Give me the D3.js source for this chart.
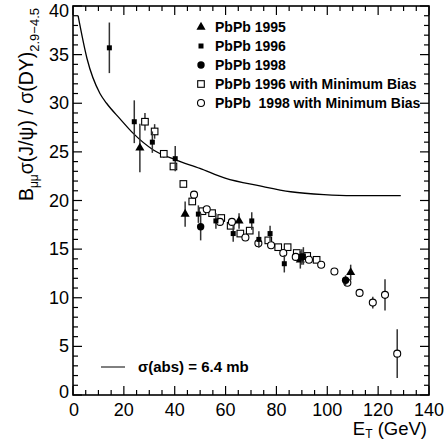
<!DOCTYPE html>
<html>
<head>
<meta charset="utf-8">
<script src="https://cdn.jsdelivr.net/npm/d3@7"></script>
<style>
  body { margin: 0; background: #fff; }
  text { font-family: "Liberation Sans", Arial, Helvetica, sans-serif; fill: #000; }
</style>
</head>
<body>
<div id="chart"></div>
<script>
// values: [E_T, ratio, error]
const pbpb1995 = [
  [26.3, 25.4, 2.5], [44.1, 18.6, 1.3], [65.3, 17.9, 0.8], [89.4, 13.9, 0.9], [109.2, 12.6, 0.8]
]
const pbpb1996 = [
  [14.3, 35.7, 2.6], [24.1, 28.1, 2.2], [31.2, 26.0, 1.1], [40.2, 24.3, 1.3],
  [49.3, 18.6, 0.9], [56.2, 17.9, 0.8], [63.0, 16.6, 0.85], [70.3, 17.9, 0.9],
  [73.1, 16.0, 0.85], [77.5, 16.6, 0.8], [83.1, 13.5, 0.9], [90.6, 14.3, 0.9]
]
const pbpb1998 = [
  [50.2, 17.3, 1.4], [90.0, 14.2, 0.8], [107.2, 11.8, 0.5]
]
const pbpb1996mb = [
  [28.3, 28.1, 0.9], [32.1, 27.1, 0.75], [35.7, 24.8, 0.4], [39.5, 23.5, 0.3],
  [43.4, 21.7, 0], [46.9, 19.9, 0], [50.9, 18.9, 0], [54.7, 18.7, 0],
  [58.3, 18.2, 0], [62.0, 17.4, 0], [65.8, 16.6, 0], [69.5, 16.9, 0],
  [76.8, 15.9, 0], [80.7, 15.2, 0], [84.4, 15.2, 0], [88.0, 14.6, 0],
  [92.1, 14.3, 0], [95.8, 13.9, 0]
]
const pbpb1998mb = [
  [47.6, 20.6, 0.3], [52.6, 19.1, 0], [57.8, 17.8, 0], [62.5, 17.8, 0],
  [67.8, 16.2, 0], [72.9, 15.6, 0], [77.9, 15.4, 0], [82.7, 14.6, 0],
  [87.6, 14.2, 0], [92.8, 13.9, 0], [97.6, 13.4, 0], [102.8, 12.7, 0],
  [107.9, 11.55, 0], [112.7, 10.5, 0], [117.9, 9.5, 0.6], [122.7, 10.3, 1.6],
  [127.5, 4.25, 2.5]
]
// sigma(abs) = 6.4 mb absorption curve
const absCurve = [
  [2.0, 39.0], [5.5, 34.6], [10.6, 31.0], [13.2, 30.0], [18.5, 28.4],
  [23.7, 26.9], [31.6, 25.2], [40.1, 24.2], [49.9, 23.3], [59.8, 22.3],
  [73.5, 21.5], [85.6, 20.9], [98.7, 20.6], [110, 20.5], [128.9, 20.5]
]
const xTicks = [0, 20, 40, 60, 80, 100, 120, 140]
const yTicks = [0, 5, 10, 15, 20, 25, 30, 35, 40]
const legendNames = [
  "PbPb 1995", "PbPb 1996", "PbPb 1998",
  "PbPb 1996 with Minimum Bias", "PbPb  1998 with Minimum Bias"
]

const W = 448, H = 442
const margin = {top: 6, right: 19, bottom: 47, left: 73},
    width = W - margin.left - margin.right,
    height = H - margin.top - margin.bottom

const svg = d3.select("#chart")
  .append("svg")
    .attr("width", W)
    .attr("height", H)
  .append("g")
    .attr("transform", `translate(${margin.left},${margin.top})`)

const x = d3.scaleLinear().domain([0, 140]).range([0, width])
const y = d3.scaleLinear().domain([0, 40]).range([height, 0])

// ticks on all four sides, pointing inside
const tickG = svg.append("g").attr("stroke", "#000").attr("stroke-width", 1.2)
d3.range(0, 141, 5).forEach(v => {
  const len = v % 20 === 0 ? 9 : 5
  tickG.append("line").attr("x1", x(v)).attr("x2", x(v)).attr("y1", height).attr("y2", height - len)
  tickG.append("line").attr("x1", x(v)).attr("x2", x(v)).attr("y1", 0).attr("y2", len)
})
d3.range(0, 41, 1).forEach(v => {
  const len = v % 5 === 0 ? 9 : 5
  tickG.append("line").attr("x1", 0).attr("x2", len).attr("y1", y(v)).attr("y2", y(v))
  tickG.append("line").attr("x1", width).attr("x2", width - len).attr("y1", y(v)).attr("y2", y(v))
})

svg.append("rect")
  .attr("width", width).attr("height", height)
  .attr("fill", "none").attr("stroke", "#000").attr("stroke-width", 1.6)

// tick labels
svg.append("g").selectAll("text")
  .data(xTicks)
  .join("text")
    .attr("x", d => x(d) + (d === 0 ? 1 : 0))
    .attr("y", height + 21)
    .attr("text-anchor", "middle")
    .style("font-size", "18px")
    .text(d => d)

svg.append("g").selectAll("text")
  .data(yTicks)
  .join("text")
    .attr("x", -4)
    .attr("y", d => y(d) + 6 - (d === 0 ? 3 : 0) + (d === 40 ? 5 : 0))
    .attr("text-anchor", "end")
    .style("font-size", "18px")
    .text(d => d)

// axis titles
const xt = svg.append("text")
  .attr("x", width - 2)
  .attr("y", height + 40)
  .attr("text-anchor", "end")
  .style("font-size", "18.5px")
xt.append("tspan").text("E")
xt.append("tspan").attr("dy", 3).style("font-size", "12px").text("T")
xt.append("tspan").attr("dy", -3).text(" (GeV)")

const yt = svg.append("text")
  .attr("transform", `translate(${-40},${2}) rotate(-90)`)
  .attr("text-anchor", "end")
  .style("font-size", "19.5px")
yt.append("tspan").text("B")
yt.append("tspan").attr("dy", 5).style("font-size", "12px").text("μμ")
yt.append("tspan").attr("dy", -5).text("σ(J/ψ) / σ(DY)")
yt.append("tspan").attr("dy", 6).style("font-size", "13px").text("2.9−4.5")

// curve
svg.append("path")
  .datum(absCurve)
  .attr("fill", "none")
  .attr("stroke", "#000")
  .attr("stroke-width", 1.3)
  .attr("d", d3.line().x(d => x(d[0])).y(d => y(d[1])).curve(d3.curveMonotoneX))

// markers
const tri = d3.symbol().type(d3.symbolTriangle).size(36)
const drawMarker = (g, kind) => {
  if (kind === "tri") g.append("path").attr("d", tri).attr("fill", "#000")
  if (kind === "sq") g.append("rect").attr("x", -2.5).attr("y", -2.5).attr("width", 5).attr("height", 5).attr("fill", "#000")
  if (kind === "circ") g.append("circle").attr("r", 3.7).attr("fill", "#000")
  if (kind === "osq") g.append("rect").attr("x", -3.3).attr("y", -3.3).attr("width", 6.6).attr("height", 6.6).attr("fill", "#fff").attr("stroke", "#000").attr("stroke-width", 1.1)
  if (kind === "ocirc") g.append("circle").attr("r", 3.5).attr("fill", "#fff").attr("stroke", "#000").attr("stroke-width", 1.1)
}

const series = [
  {data: pbpb1996mb, kind: "osq"},
  {data: pbpb1998mb, kind: "ocirc"},
  {data: pbpb1995, kind: "tri"},
  {data: pbpb1996, kind: "sq"},
  {data: pbpb1998, kind: "circ"}
]

series.forEach(s => {
  const g = svg.append("g")
  g.selectAll("line")
    .data(s.data.filter(d => d[2] > 0))
    .join("line")
      .attr("x1", d => x(d[0])).attr("x2", d => x(d[0]))
      .attr("y1", d => y(d[1] + d[2])).attr("y2", d => y(d[1] - d[2]))
      .attr("stroke", "#333").attr("stroke-width", 1.5)
  g.selectAll("g")
    .data(s.data)
    .join("g")
      .attr("transform", d => `translate(${x(d[0])},${y(d[1])})`)
      .each(function() { drawMarker(d3.select(this), s.kind) })
})

// legend
const legKinds = ["tri", "sq", "circ", "osq", "ocirc"]
const legY = [21, 40, 59, 78, 97]
legendNames.forEach((name, i) => {
  const g = svg.append("g").attr("transform", `translate(${128},${legY[i]})`)
  drawMarker(g, legKinds[i])
  g.append("text")
    .attr("x", 14).attr("y", 5)
    .style("font-size", "14px").style("font-weight", "bold")
    .style("white-space", "pre")
    .attr("xml:space", "preserve")
    .text(name)
})

const lg = svg.append("g").attr("transform", `translate(${28},${361})`)
lg.append("line").attr("x1", 0).attr("x2", 24).attr("stroke", "#000").attr("stroke-width", 1)
lg.append("text")
  .attr("x", 37).attr("y", 5)
  .style("font-size", "15px").style("font-weight", "bold")
  .text("σ(abs) = 6.4 mb")
</script>
</body>
</html>
